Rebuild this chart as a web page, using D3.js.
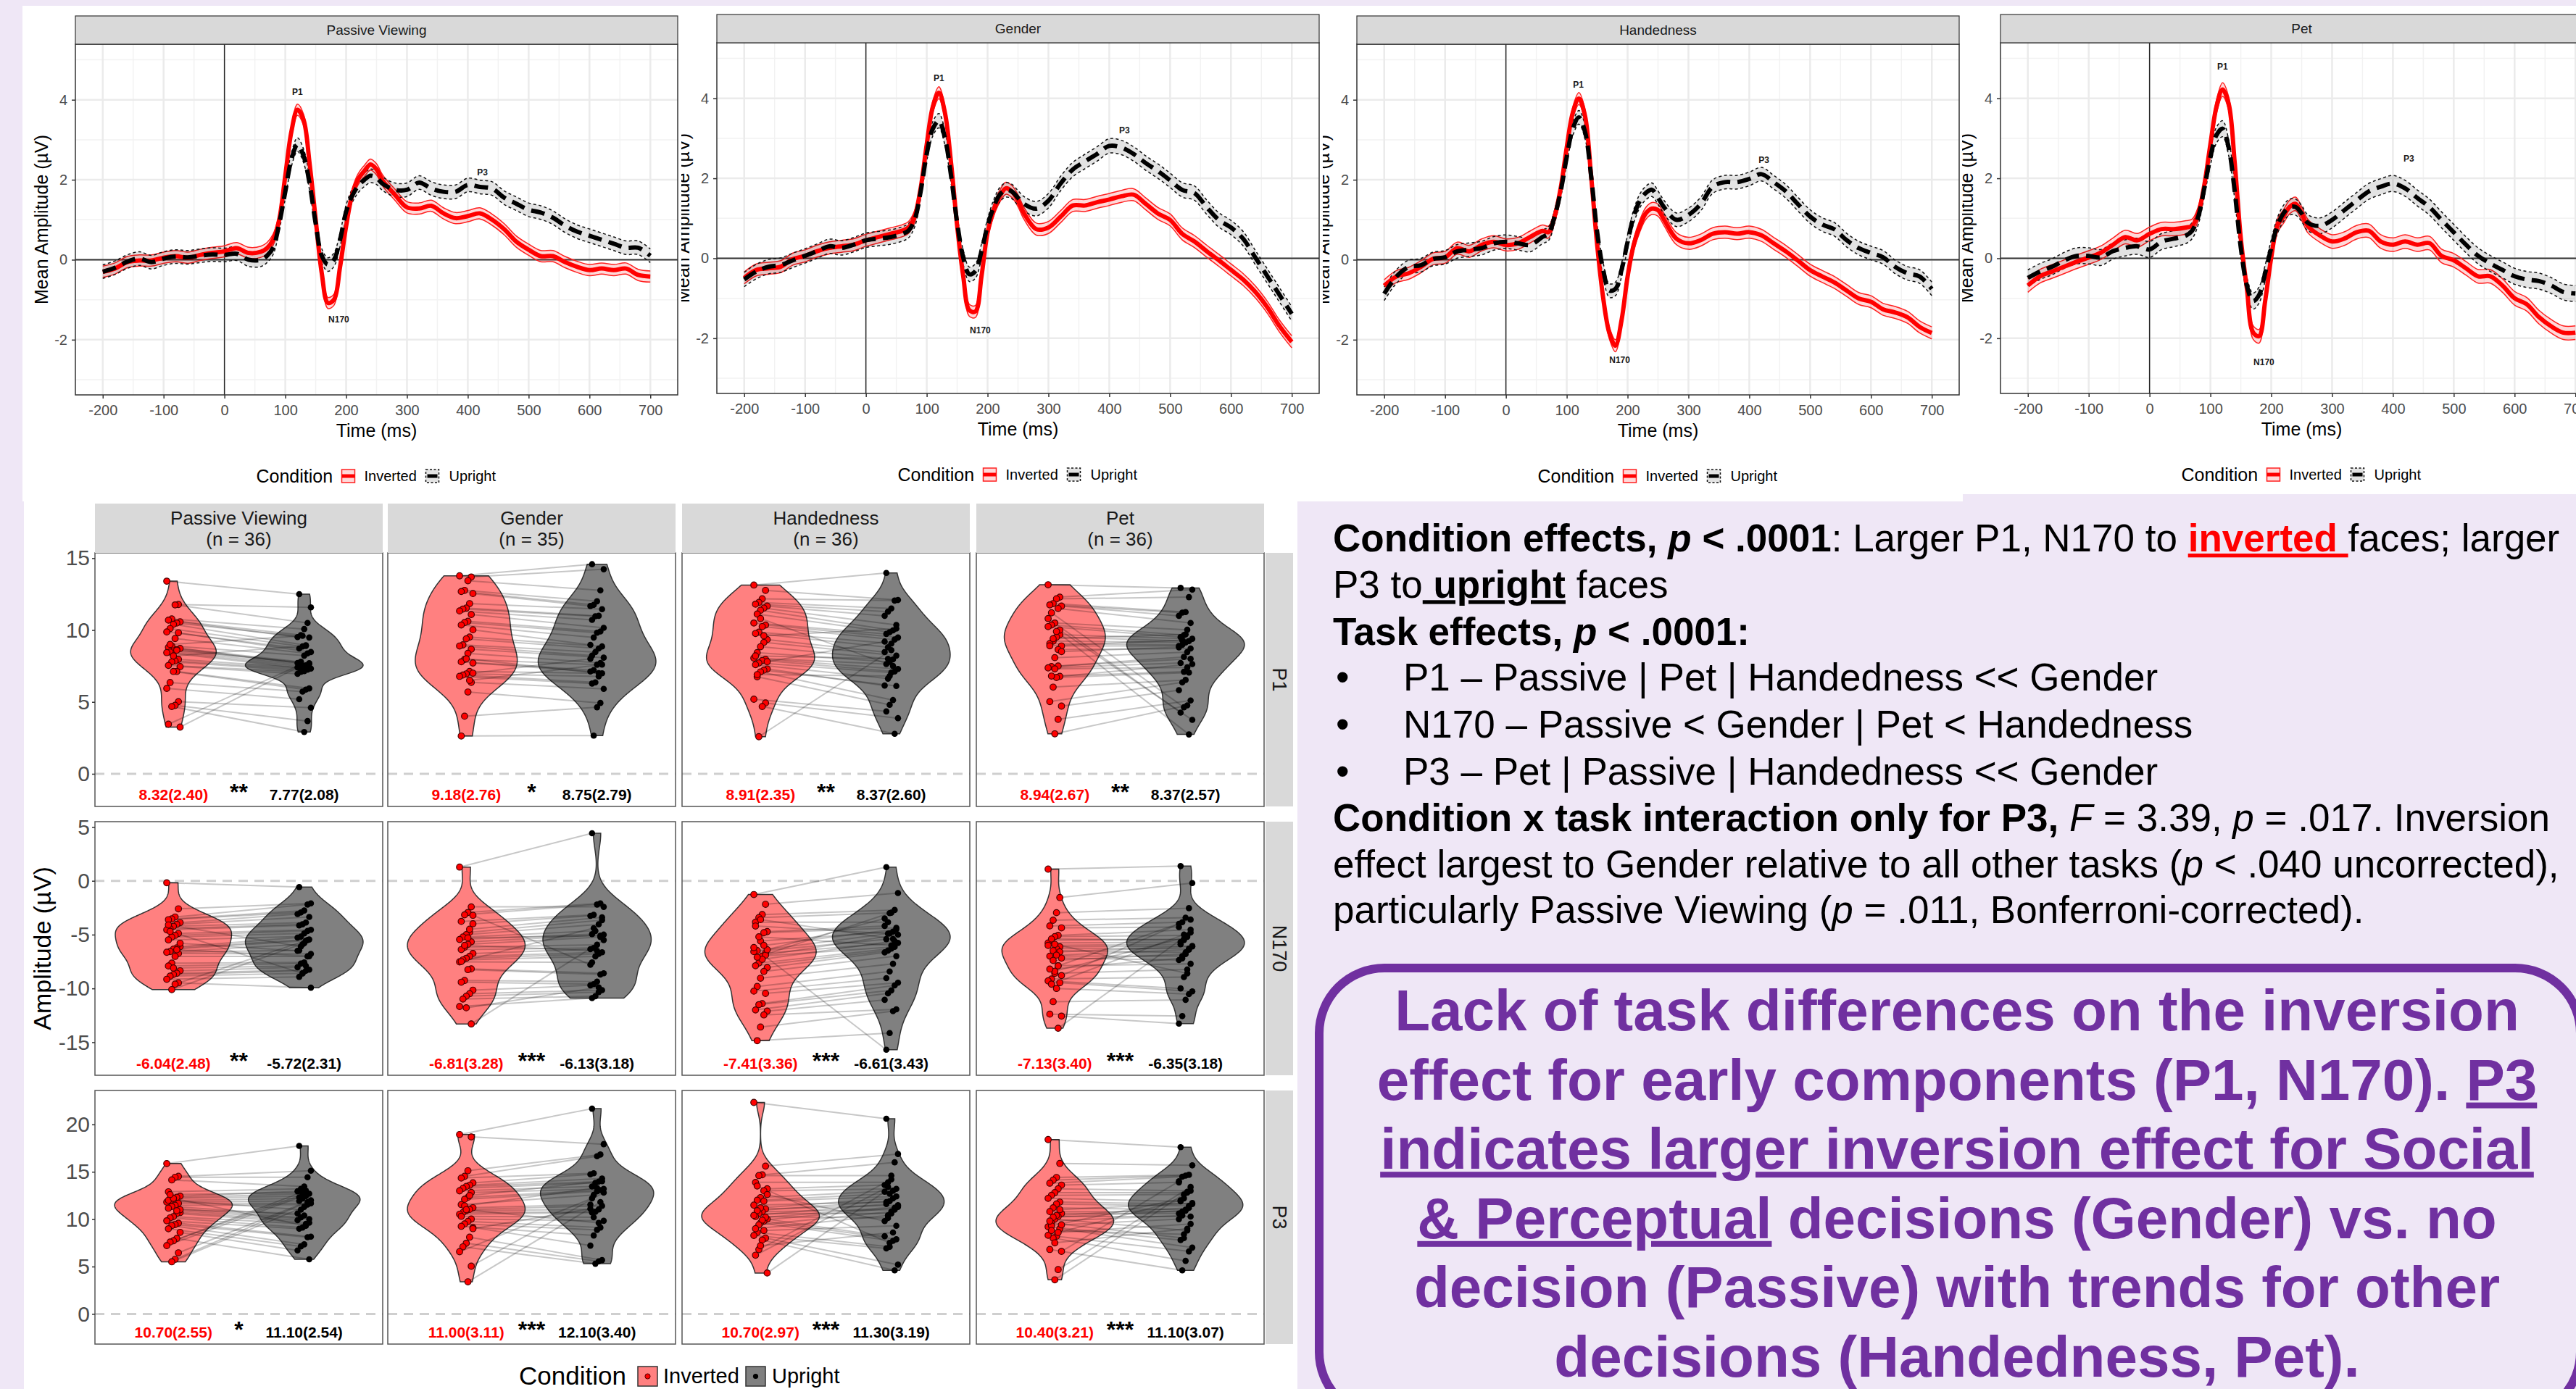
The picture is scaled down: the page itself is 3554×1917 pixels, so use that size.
<!DOCTYPE html>
<html>
<head>
<meta charset="utf-8">
<title>Face inversion: ERP waveforms and component amplitudes by task</title>
<script src="https://cdn.jsdelivr.net/npm/d3@7"></script>
<style>
  html, body { margin: 0; padding: 0; background: #efe7f6; }
  svg { display: block; }
  text { font-family: "Liberation Sans", Arial, Helvetica, sans-serif; }
  text.narrow { font-family: "Liberation Sans Narrow", "Arial Narrow", "Liberation Sans", Arial, sans-serif; }
</style>
</head>
<body>
<div id="poster"></div>
<script>
// ---------------------------------------------------------------------------
// ERP grand averages (µV)
// ---------------------------------------------------------------------------
const times = [-200, -180, -160, -140, -120, -100, -80, -60, -40, -20, 0, 20, 40, 60,
  70, 80, 90, 100, 110, 120, 130, 140, 150, 160, 170, 180, 190, 200, 210, 220, 230, 240, 250, 260,
  280, 300, 320, 340, 360, 380, 400, 420, 440, 460, 480, 500, 520, 540, 560, 580, 600, 620, 640, 660, 680, 700];
const tasks = ['Passive Viewing', 'Gender', 'Handedness', 'Pet'];
const conditions = ['Inverted', 'Upright'];

const erpInvPassive = [-0.3, -0.22, -0.06, -0.02, -0.02, 0.05, 0.09, 0.05, 0.12, 0.17, 0.21, 0.29, 0.17, 0.2,
  0.29, 0.5, 1.0, 2.1, 3.2, 3.75, 3.5, 2.4, 1.0, -0.34, -1.08, -1.0, -0.18, 0.84, 1.63, 2.02, 2.22, 2.38, 2.26, 1.98,
  1.63, 1.31, 1.28, 1.35, 1.16, 1.04, 1.09, 1.16, 1.0, 0.76, 0.45, 0.25, 0.09, 0.09, -0.06, -0.18, -0.26, -0.22, -0.26, -0.22, -0.38, -0.42];
const erpUpPassive = [-0.3, -0.2, -0.05, 0.03, -0.06, 0.03, 0.08, 0.06, 0.1, 0.13, 0.12, 0.15, 0.0, 0.0,
  0.1, 0.3, 0.9, 1.7, 2.5, 2.88, 2.6, 1.9, 0.9, 0.1, -0.12, 0.0, 0.5, 1.2, 1.6, 1.85, 2.0, 2.1, 2.05, 1.9,
  1.75, 1.75, 1.93, 1.78, 1.7, 1.7, 1.87, 1.82, 1.78, 1.55, 1.4, 1.25, 1.18, 1.05, 0.85, 0.7, 0.6, 0.5, 0.4, 0.3, 0.3, 0.1];
const erpInvGender = [-0.49, -0.29, -0.25, -0.21, -0.02, 0.06, 0.18, 0.26, 0.3, 0.34, 0.45, 0.53, 0.61, 0.69,
  0.77, 1.04, 1.75, 2.85, 3.79, 4.14, 3.63, 2.38, 0.81, -0.45, -1.3, -1.33, -0.45, 0.65, 1.2, 1.55, 1.75, 1.67, 1.44, 1.12,
  0.73, 0.77, 1.04, 1.32, 1.32, 1.4, 1.47, 1.55, 1.59, 1.36, 1.12, 0.96, 0.61, 0.42, 0.18, -0.05, -0.29, -0.53, -0.84, -1.23, -1.7, -2.09];
const erpUpGender = [-0.53, -0.33, -0.21, -0.17, -0.05, 0.06, 0.18, 0.3, 0.26, 0.34, 0.45, 0.49, 0.53, 0.61,
  0.69, 0.96, 1.67, 2.61, 3.24, 3.44, 3.0, 2.06, 0.89, 0.02, -0.4, -0.32, 0.18, 0.81, 1.28, 1.59, 1.71, 1.67, 1.51, 1.36,
  1.24, 1.44, 1.87, 2.22, 2.42, 2.61, 2.81, 2.77, 2.61, 2.38, 2.18, 1.95, 1.71, 1.63, 1.28, 0.96, 0.77, 0.49, 0.02, -0.45, -0.92, -1.39];
const erpInvHand = [-0.65, -0.42, -0.34, -0.18, 0.02, 0.06, 0.29, 0.21, 0.37, 0.45, 0.37, 0.41, 0.57, 0.72,
  0.69, 1.08, 1.79, 2.81, 3.68, 4.03, 3.6, 2.1, 0.37, -0.97, -1.83, -2.15, -1.52, -0.42, 0.37, 0.84, 1.16, 1.28, 1.24, 1.0,
  0.53, 0.41, 0.49, 0.65, 0.69, 0.65, 0.69, 0.61, 0.41, 0.21, -0.02, -0.26, -0.42, -0.57, -0.77, -0.97, -1.05, -1.24, -1.32, -1.44, -1.68, -1.83];
const erpUpHand = [-0.85, -0.42, -0.18, -0.14, 0.02, 0.06, 0.21, 0.25, 0.29, 0.41, 0.45, 0.41, 0.37, 0.57,
  0.65, 1.08, 1.71, 2.57, 3.28, 3.56, 3.2, 2.1, 0.69, -0.26, -0.77, -0.73, -0.26, 0.45, 1.08, 1.47, 1.67, 1.75, 1.55, 1.31,
  1.0, 1.12, 1.39, 1.83, 1.94, 1.94, 2.02, 2.14, 1.94, 1.71, 1.39, 1.08, 0.88, 0.76, 0.49, 0.29, 0.17, 0.06, -0.18, -0.34, -0.42, -0.73];
const erpInvPet = [-0.68, -0.45, -0.33, -0.21, -0.09, 0.02, 0.14, 0.34, 0.53, 0.45, 0.61, 0.73, 0.73, 0.77,
  0.81, 1.12, 1.83, 2.85, 3.79, 4.22, 3.87, 2.38, 0.49, -0.76, -1.85, -1.95, -1.07, 0.02, 0.81, 1.04, 1.28, 1.36, 1.12, 0.81,
  0.57, 0.42, 0.49, 0.65, 0.69, 0.42, 0.34, 0.42, 0.34, 0.38, 0.06, -0.05, -0.25, -0.45, -0.45, -0.68, -1.0, -1.15, -1.47, -1.7, -1.86, -1.86];
const erpUpPet = [-0.49, -0.33, -0.21, -0.05, 0.06, 0.06, 0.02, 0.18, 0.26, 0.3, 0.22, 0.42, 0.49, 0.57,
  0.69, 1.04, 1.75, 2.53, 3.08, 3.24, 2.77, 1.67, 0.26, -0.68, -1.07, -0.92, -0.37, 0.26, 0.81, 1.12, 1.28, 1.28, 1.12, 0.89,
  0.81, 0.96, 1.2, 1.44, 1.67, 1.79, 1.87, 1.75, 1.51, 1.28, 0.96, 0.65, 0.34, 0.06, -0.13, -0.29, -0.45, -0.53, -0.57, -0.68, -0.84, -0.88];

const erpInverted = [erpInvPassive, erpInvGender, erpInvHand, erpInvPet];
const erpUpright = [erpUpPassive, erpUpGender, erpUpHand, erpUpPet];
// ribbon half-width (SE, µV) per task: [inverted, upright]
const erpSE = [[0.14, 0.17], [0.15, 0.18], [0.15, 0.17], [0.17, 0.2]];

// component annotations (time in ms, amplitude in µV)
const peakNames = ['P1', 'N170', 'P3'];
const peakTimes = [[120, 188, 424], [120, 188, 425], [119, 187, 424], [120, 188, 426]];
const peakValues = [[4.2, -1.5, 2.19], [4.5, -1.8, 3.2], [4.38, -2.5, 2.49], [4.79, -2.6, 2.49]];
const erpXTicks = [-200, -100, 0, 100, 200, 300, 400, 500, 600, 700];
const erpYTicks = [-2, 0, 2, 4];

// ---------------------------------------------------------------------------
// Per-participant component amplitudes (µV) by task: Passive, Gender, Handedness, Pet
// ---------------------------------------------------------------------------
const groupN = ['(n = 36)', '(n = 35)', '(n = 36)', '(n = 36)'];

const p1Inverted = [
  [13.4, 11.78, 11.75, 10.77, 10.69, 10.57, 10.49, 10.4, 10.1, 9.87, 9.81, 9.41, 8.89, 8.8, 8.72, 8.64, 8.55, 8.47, 8.43, 7.96, 7.85, 7.79, 7.54, 7.46, 7.12, 7.12, 6.35, 5.94, 5.02, 4.76, 4.68, 3.45, 3.25, 8.6, 8.2, 9.0],
  [13.77, 13.69, 13.43, 12.76, 12.68, 12.54, 11.84, 11.53, 11.46, 11.33, 11.08, 10.61, 10.52, 10.35, 10.02, 9.51, 9.39, 8.97, 8.89, 8.67, 8.38, 7.96, 7.79, 7.71, 7.12, 6.95, 6.87, 6.78, 6.36, 5.69, 4.01, 2.63, 7.0, 6.5, 8.0],
  [13.13, 12.76, 12.17, 11.92, 11.8, 11.67, 11.53, 11.38, 11.11, 10.49, 10.35, 10.24, 9.85, 9.76, 9.34, 9.14, 8.84, 8.43, 8.05, 7.96, 7.88, 7.71, 7.59, 7.29, 7.21, 7.09, 6.75, 5.19, 4.93, 4.68, 2.58, 8.2, 7.8, 9.6, 10.8, 6.9],
  [13.15, 12.29, 12.17, 11.84, 11.75, 11.67, 11.5, 10.49, 10.35, 10.24, 9.68, 9.51, 9.23, 9.06, 8.89, 8.64, 8.08, 7.46, 7.37, 6.78, 6.7, 6.03, 5.02, 4.71, 3.79, 2.78, 11.2, 10.8, 10.0, 9.9, 9.4, 8.9, 8.5, 7.5, 7.3, 6.8]
];
const p1Upright = [
  [12.5, 11.58, 10.49, 10.07, 9.65, 9.51, 9.48, 8.94, 8.86, 8.72, 8.47, 8.38, 8.22, 7.79, 7.71, 7.63, 7.54, 7.46, 7.37, 7.32, 7.24, 7.15, 7.09, 6.95, 5.94, 5.86, 5.72, 5.19, 4.6, 3.67, 2.91, 7.6, 7.4, 7.7, 8.9, 9.6],
  [14.58, 14.23, 12.76, 12.0, 11.75, 11.67, 11.45, 10.99, 10.96, 10.71, 10.15, 9.9, 9.81, 9.48, 8.97, 8.86, 8.72, 8.47, 8.22, 8.08, 7.71, 7.59, 7.21, 7.12, 6.99, 6.78, 6.36, 6.28, 5.91, 4.93, 4.63, 2.66, 8.0, 7.6, 7.0],
  [13.97, 12.09, 12.05, 11.5, 11.28, 10.99, 10.35, 9.98, 9.85, 9.73, 9.48, 9.34, 9.06, 8.8, 8.47, 8.22, 7.96, 7.79, 7.63, 7.29, 7.12, 7.04, 6.62, 6.14, 6.11, 5.13, 4.8, 4.34, 3.87, 2.78, 8.6, 8.0, 9.2, 10.1, 7.5, 6.8],
  [12.93, 12.81, 12.29, 11.25, 11.21, 10.99, 10.49, 10.02, 9.65, 9.51, 9.39, 9.23, 9.14, 8.97, 8.89, 8.72, 8.47, 8.13, 7.71, 7.63, 7.04, 6.53, 6.36, 5.82, 5.1, 4.76, 4.63, 4.26, 3.75, 2.74, 9.7, 9.3, 8.8, 8.0, 7.4, 7.1]
];
const n170Inverted = [
  [-0.18, -2.6, -3.36, -3.54, -3.61, -3.88, -4.04, -4.22, -4.44, -4.55, -4.89, -5.07, -5.22, -5.49, -6.12, -6.23, -6.35, -6.57, -6.64, -6.75, -7.02, -7.65, -7.91, -8.36, -8.59, -8.7, -8.86, -9.15, -9.48, -9.6, -10.11, -4.1, -5.8, -6.4, -8.1, -4.7],
  [1.28, -2.42, -2.94, -3.16, -3.77, -3.99, -4.78, -5.0, -5.22, -5.45, -5.67, -5.9, -6.17, -6.39, -6.75, -7.02, -7.2, -7.35, -7.53, -8.18, -8.25, -9.26, -9.42, -10.16, -10.49, -10.72, -10.99, -11.68, -13.3, -5.3, -6.0, -7.5, -3.2, -4.5, -11.8],
  [-1.27, -2.18, -3.13, -3.42, -3.84, -4.72, -4.82, -5.6, -6.48, -6.58, -6.73, -7.0, -7.64, -7.89, -8.06, -8.42, -9.05, -9.82, -10.25, -10.46, -11.41, -11.51, -12.0, -12.11, -12.46, -13.59, -14.86, -6.2, -6.9, -7.3, -5.2, -4.2, -6.4, -6.0, -3.6, -7.1],
  [1.09, -1.55, -2.96, -3.66, -4.19, -4.37, -5.07, -5.18, -5.53, -5.77, -6.13, -6.3, -6.48, -7.0, -7.18, -7.89, -8.59, -9.12, -9.3, -9.47, -10.0, -11.23, -12.39, -12.57, -13.7, -8.4, -5.4, -6.0, -6.6, -6.9, -7.4, -8.2, -8.8, -7.9, -5.9, -9.6]
];
const n170Upright = [
  [-0.58, -2.09, -2.2, -2.76, -2.94, -3.09, -3.36, -3.88, -4.04, -4.15, -4.55, -4.66, -4.89, -5.18, -5.27, -5.45, -5.56, -5.9, -6.46, -6.79, -7.02, -7.58, -7.69, -8.03, -8.25, -8.36, -8.59, -8.92, -9.93, -5.5, -5.8, -6.1, -6.5, -7.0, -7.9, -8.6],
  [4.42, -2.42, -2.09, -2.2, -3.16, -3.25, -3.65, -4.04, -4.66, -4.96, -5.0, -5.22, -5.94, -6.23, -6.35, -6.64, -6.79, -7.02, -7.58, -8.59, -8.7, -9.37, -9.6, -9.71, -10.16, -10.34, -10.72, -10.9, -5.5, -5.1, -6.5, -4.4, -7.8, -3.4, -9.9],
  [1.27, -1.13, -2.71, -2.96, -3.84, -4.19, -4.37, -4.72, -4.89, -5.42, -5.77, -6.13, -6.3, -6.48, -6.65, -7.0, -7.71, -8.42, -9.05, -9.47, -9.72, -10.18, -10.46, -11.06, -11.94, -12.11, -14.15, -15.7, -5.0, -5.6, -6.0, -4.9, -3.5, -4.5, -5.4, -3.0],
  [1.37, -0.21, -2.54, -3.42, -3.84, -4.3, -4.54, -5.07, -5.42, -5.7, -6.06, -6.3, -6.65, -7.0, -7.36, -7.71, -8.24, -8.94, -10.0, -10.28, -10.53, -11.06, -12.57, -13.27, -4.8, -5.2, -5.5, -5.9, -6.1, -6.4, -6.8, -7.2, -4.0, -3.6, -8.6, -5.0]
];
const p3Inverted = [
  [15.87, 14.52, 14.42, 14.14, 12.89, 12.43, 12.31, 12.18, 11.97, 11.8, 11.67, 11.46, 11.34, 11.16, 10.7, 10.6, 10.27, 10.14, 9.83, 9.58, 9.43, 9.32, 8.99, 8.61, 7.97, 7.72, 7.59, 7.21, 6.45, 5.76, 5.5, 12.0, 11.0, 10.9, 12.2, 12.6],
  [18.93, 18.68, 15.11, 14.52, 14.34, 13.83, 13.58, 13.45, 13.25, 12.99, 12.82, 12.31, 12.1, 11.54, 11.21, 11.03, 10.9, 10.7, 10.52, 10.01, 9.76, 9.5, 9.25, 9.12, 8.1, 7.46, 7.08, 6.57, 5.04, 3.39, 11.4, 10.3, 9.0, 12.5, 11.0],
  [22.32, 15.6, 14.68, 14.6, 13.88, 13.2, 13.0, 12.28, 12.0, 11.48, 11.08, 10.8, 10.6, 10.28, 10.0, 9.8, 9.6, 8.6, 8.28, 8.0, 7.8, 6.8, 6.2, 4.32, 11.9, 11.2, 10.9, 10.4, 10.2, 9.9, 9.4, 9.0, 12.6, 8.8, 7.2, 13.5],
  [18.4, 15.88, 14.4, 14.12, 13.8, 13.6, 13.2, 12.8, 12.52, 12.2, 11.8, 11.6, 11.2, 10.8, 10.6, 10.28, 10.0, 9.6, 9.2, 9.0, 8.2, 8.0, 6.8, 6.6, 4.68, 3.6, 9.3, 8.3, 11.0, 10.4, 10.2, 9.8, 9.4, 8.6, 7.5, 8.8]
];
const p3Upright = [
  [17.73, 15.11, 14.42, 13.45, 13.2, 12.94, 12.69, 12.43, 12.18, 11.92, 11.67, 11.54, 10.39, 10.19, 9.89, 9.63, 9.5, 9.12, 8.99, 8.15, 8.1, 7.34, 7.13, 6.7, 5.76, 13.0, 12.6, 12.3, 12.0, 11.8, 11.3, 11.0, 10.6, 10.0, 9.3, 12.8],
  [21.66, 17.91, 16.82, 16.64, 14.85, 14.73, 14.29, 13.96, 13.83, 13.45, 13.2, 13.07, 12.94, 12.56, 11.54, 11.41, 11.03, 10.78, 10.7, 9.83, 9.12, 8.87, 8.28, 7.21, 5.68, 5.55, 5.3, 12.2, 12.8, 11.8, 13.3, 10.2, 11.1, 14.0, 9.6],
  [20.6, 16.88, 16.0, 14.6, 13.88, 13.6, 13.2, 13.0, 12.68, 11.8, 11.48, 11.0, 10.6, 10.12, 8.2, 7.88, 7.72, 7.08, 6.92, 5.2, 4.6, 14.2, 13.4, 12.9, 12.4, 12.2, 11.9, 11.6, 11.3, 11.2, 10.8, 10.4, 9.8, 9.3, 8.6, 7.5],
  [17.6, 15.68, 14.68, 14.6, 14.48, 13.88, 13.0, 12.8, 12.6, 11.88, 11.6, 11.4, 11.0, 10.8, 10.6, 10.28, 8.8, 8.0, 7.8, 7.0, 6.6, 5.6, 4.6, 14.0, 13.4, 12.9, 12.2, 12.0, 11.7, 11.2, 10.9, 10.4, 10.0, 9.5, 9.0, 8.4]
];

// mean(SD) labels per task: [inverted, upright, significance]
const p1Labels = [['8.32(2.40)', '7.77(2.08)', '**'], ['9.18(2.76)', '8.75(2.79)', '*'], ['8.91(2.35)', '8.37(2.60)', '**'], ['8.94(2.67)', '8.37(2.57)', '**']];
const n170Labels = [['-6.04(2.48)', '-5.72(2.31)', '**'], ['-6.81(3.28)', '-6.13(3.18)', '***'], ['-7.41(3.36)', '-6.61(3.43)', '***'], ['-7.13(3.40)', '-6.35(3.18)', '***']];
const p3Labels = [['10.70(2.55)', '11.10(2.54)', '*'], ['11.00(3.11)', '12.10(3.40)', '***'], ['10.70(2.97)', '11.30(3.19)', '***'], ['10.40(3.21)', '11.10(3.07)', '***']];
const p1Ticks = [0, 5, 10, 15];
const n170Ticks = [-15, -10, -5, 0, 5];
const p3Ticks = [0, 5, 10, 15, 20];

// ---------------------------------------------------------------------------
// Findings text
// ---------------------------------------------------------------------------
const findingLines = [
  [['Condition effects, ', 'b'], ['p', 'bi'], [' < .0001', 'b'], [': Larger P1, N170 to ', ''], ['inverted ', 'bru'], ['faces; larger', '']],
  [['P3 to', ''], [' upright', 'bu'], [' faces', '']],
  [['Task effects, ', 'b'], ['p', 'bi'], [' < .0001:', 'b']]
];
const bulletLines = [
  'P1 \u2013 Passive | Pet | Handedness << Gender',
  'N170 \u2013 Passive < Gender | Pet < Handedness',
  'P3 \u2013 Pet | Passive | Handedness << Gender'
];
const interactionLines = [
  [['Condition x task interaction only for P3, ', 'b'], ['F', 'i'], [' = 3.39, ', ''], ['p', 'i'], [' = .017. Inversion', '']],
  [['effect largest to Gender relative to all other tasks (', ''], ['p', 'i'], [' < .040 uncorrected),', '']],
  [['particularly Passive Viewing (', ''], ['p', 'i'], [' = .011, Bonferroni-corrected).', '']]
];
const takeawayLines = [
  [['Lack of task differences on the inversion', '']],
  [['effect for early components (P1, N170). ', ''], ['P3', 'u']],
  [['indicates larger inversion effect for Social', 'u']],
  [['& Perceptual', 'u'], [' decisions (Gender) vs. no', '']],
  [['decision (Passive) with trends for other', '']],
  [['decisions (Handedness, Pet).', '']]
];

// ---------------------------------------------------------------------------
const W = 3554, H = 1917;
const BG = '#efe7f6';
const PURPLE = '#7030a0';
const TEXT_DARK = '#1a1a1a';
const TICK_GREY = '#4d4d4d';

const svg = d3.select('#poster').append('svg')
  .attr('width', W).attr('height', H)
  .attr('viewBox', `0 0 ${W} ${H}`);
const defs = svg.append('defs');

svg.append('rect').attr('width', W).attr('height', H).attr('fill', BG);
// white backgrounds of the pasted figures
svg.append('rect').attr('x', 31).attr('y', 8).attr('width', W - 31).attr('height', 674).attr('fill', '#fff');
svg.append('rect').attr('x', 31).attr('y', 8).attr('width', 2708 - 31).attr('height', 684).attr('fill', '#fff');
svg.append('rect').attr('x', 33).attr('y', 682).attr('width', 1790 - 33).attr('height', H - 682).attr('fill', '#fff');

/** Append tspans with simple style codes: b bold, i italic, r red, u underline. */
function appendParts(textSel, parts) {
  parts.forEach(([txt, st]) => {
    const t = textSel.append('tspan').text(txt);
    if (st.includes('b')) t.attr('font-weight', 'bold');
    if (st.includes('i')) t.attr('font-style', 'italic');
    if (st.includes('r')) t.attr('fill', '#ff0000');
    if (st.includes('u')) t.attr('text-decoration', 'underline');
  });
}

/** Strip d3 axis defaults so the theme can be applied. */
function styleAxis(axisG, fontSize) {
  axisG.attr('font-family', null).attr('font-size', null);
  axisG.select('.domain').remove();
  axisG.selectAll('.tick line').attr('stroke', '#333').attr('stroke-width', 1.5);
  axisG.selectAll('.tick text').attr('fill', TICK_GREY).style('font-size', fontSize + 'px');
}

// ---------------------------------------------------------------------------
// Top row: ERP waveforms, one figure per task
// ---------------------------------------------------------------------------
const ERP_LEFT = [104, 989, 1872, 2760];
const ERP_SHIFT = [0, -2, 0, -2];
const ERP_CLIP = [31, 940, 1825, 2707, W];
const ERP_W = 831, ERP_TOP = 61, ERP_BOTTOM = 545, STRIP_TOP = 22;

function drawErpPanel(i) {
  const L = ERP_LEFT[i];
  const clipId = `erp-clip-${i}`;
  defs.append('clipPath').attr('id', clipId)
    .append('rect')
    .attr('x', ERP_CLIP[i]).attr('y', 0)
    .attr('width', ERP_CLIP[i + 1] - ERP_CLIP[i]).attr('height', 700);

  const g = svg.append('g').attr('clip-path', `url(#${clipId})`)
    .append('g').attr('transform', `translate(0,${ERP_SHIFT[i]})`);

  const x = d3.scaleLinear().domain([-245, 745]).range([L, L + ERP_W]);
  const y = d3.scaleLinear().domain([-3.38, 5.39]).range([ERP_BOTTOM, ERP_TOP]);

  // grid: minor then major
  const grid = g.append('g');
  grid.selectAll('line.xmin').data(d3.range(-150, 701, 100)).join('line')
    .attr('x1', d => x(d)).attr('x2', d => x(d)).attr('y1', ERP_TOP).attr('y2', ERP_BOTTOM)
    .attr('stroke', '#f2f2f2').attr('stroke-width', 1.5);
  grid.selectAll('line.ymin').data([-3, -1, 1, 3, 5]).join('line')
    .attr('x1', L).attr('x2', L + ERP_W).attr('y1', d => y(d)).attr('y2', d => y(d))
    .attr('stroke', '#f2f2f2').attr('stroke-width', 1.5);
  grid.selectAll('line.xmaj').data(erpXTicks).join('line')
    .attr('x1', d => x(d)).attr('x2', d => x(d)).attr('y1', ERP_TOP).attr('y2', ERP_BOTTOM)
    .attr('stroke', '#ebebeb').attr('stroke-width', 2.5);
  grid.selectAll('line.ymaj').data(erpYTicks).join('line')
    .attr('x1', L).attr('x2', L + ERP_W).attr('y1', d => y(d)).attr('y2', d => y(d))
    .attr('stroke', '#ebebeb').attr('stroke-width', 2.5);

  // reference lines at stimulus onset and 0 µV
  g.append('line').attr('x1', x(0)).attr('x2', x(0)).attr('y1', ERP_TOP).attr('y2', ERP_BOTTOM)
    .attr('stroke', '#222').attr('stroke-width', 1.4);
  g.append('line').attr('x1', L).attr('x2', L + ERP_W).attr('y1', y(0)).attr('y2', y(0))
    .attr('stroke', '#333').attr('stroke-width', 2);

  const series = [
    { vals: erpInverted[i], se: erpSE[i][0], fill: 'rgba(255,0,0,0.15)', edge: '#ff2020', edgeDash: null, line: '#ff0000', dash: null },
    { vals: erpUpright[i], se: erpSE[i][1], fill: 'rgba(0,0,0,0.11)', edge: '#111', edgeDash: '4,3.5', line: '#000', dash: '19,10' }
  ];
  const curve = d3.curveCatmullRom.alpha(0.5);

  series.forEach(s => {
    const ribbon = d3.area().curve(curve)
      .x((d, j) => x(times[j]))
      .y0(d => y(d - s.se))
      .y1(d => y(d + s.se));
    g.append('path').datum(s.vals).attr('d', ribbon).attr('fill', s.fill);
    [-1, 1].forEach(sign => {
      const edge = d3.line().curve(curve).x((d, j) => x(times[j])).y(d => y(d + sign * s.se));
      g.append('path').datum(s.vals).attr('d', edge)
        .attr('fill', 'none').attr('stroke', s.edge).attr('stroke-width', 1.5)
        .attr('stroke-dasharray', s.edgeDash);
    });
  });
  series.forEach(s => {
    const wave = d3.line().curve(curve).x((d, j) => x(times[j])).y(d => y(d));
    g.append('path').datum(s.vals).attr('d', wave)
      .attr('fill', 'none').attr('stroke', s.line).attr('stroke-width', 6)
      .attr('stroke-dasharray', s.dash);
  });

  // component labels
  g.selectAll('text.peak').data(peakNames).join('text')
    .attr('x', (d, k) => x(peakTimes[i][k]))
    .attr('y', (d, k) => y(peakValues[i][k]))
    .attr('dy', '0.35em')
    .attr('text-anchor', 'middle')
    .attr('font-size', 12).attr('font-weight', 'bold').attr('fill', TEXT_DARK)
    .text(d => d);

  // panel border and strip
  g.append('rect').attr('x', L).attr('y', ERP_TOP).attr('width', ERP_W).attr('height', ERP_BOTTOM - ERP_TOP)
    .attr('fill', 'none').attr('stroke', '#333').attr('stroke-width', 1.5);
  g.append('rect').attr('x', L).attr('y', STRIP_TOP).attr('width', ERP_W).attr('height', ERP_TOP - STRIP_TOP)
    .attr('fill', '#d9d9d9').attr('stroke', '#333').attr('stroke-width', 1.2);
  g.append('text').attr('x', L + ERP_W / 2).attr('y', (STRIP_TOP + ERP_TOP) / 2).attr('dy', '0.35em')
    .attr('text-anchor', 'middle').attr('font-size', 19).attr('fill', TEXT_DARK).text(tasks[i]);

  // axes
  const xAxis = g.append('g').attr('transform', `translate(0,${ERP_BOTTOM})`)
    .call(d3.axisBottom(x).tickValues(erpXTicks).tickSize(5).tickPadding(9).tickFormat(d => String(d)));
  styleAxis(xAxis, 20);
  const yAxis = g.append('g').attr('transform', `translate(${L},0)`)
    .call(d3.axisLeft(y).tickValues(erpYTicks).tickSize(5).tickPadding(6).tickFormat(d => String(d)));
  styleAxis(yAxis, 20);

  g.append('text').attr('x', L + ERP_W / 2).attr('y', 603).attr('text-anchor', 'middle')
    .attr('font-size', 25).attr('fill', '#000').text('Time (ms)');
  g.append('text')
    .attr('transform', `translate(${L - 47},${(ERP_TOP + ERP_BOTTOM) / 2}) rotate(-90)`)
    .attr('dy', '0.35em').attr('text-anchor', 'middle')
    .attr('font-size', 25).attr('fill', '#000').text('Mean Amplitude (\u00b5V)');

  // legend
  const cx = L + ERP_W / 2;
  const leg = g.append('g');
  leg.append('text').attr('x', cx - 166).attr('y', 666).attr('font-size', 25).attr('fill', '#000').text('Condition');
  leg.append('rect').attr('x', cx - 48).attr('y', 648).attr('width', 18).attr('height', 18)
    .attr('fill', 'rgba(255,0,0,0.15)').attr('stroke', '#ff2020').attr('stroke-width', 1.5);
  leg.append('line').attr('x1', cx - 48).attr('x2', cx - 30).attr('y1', 657).attr('y2', 657)
    .attr('stroke', '#ff0000').attr('stroke-width', 5);
  leg.append('text').attr('x', cx - 17).attr('y', 664).attr('font-size', 20).attr('fill', '#000').text(conditions[0]);
  leg.append('rect').attr('x', cx + 68).attr('y', 648).attr('width', 18).attr('height', 18)
    .attr('fill', 'rgba(0,0,0,0.11)').attr('stroke', '#111').attr('stroke-width', 1.5).attr('stroke-dasharray', '3,2.5');
  leg.append('line').attr('x1', cx + 70).attr('x2', cx + 84).attr('y1', 657).attr('y2', 657)
    .attr('stroke', '#000').attr('stroke-width', 5);
  leg.append('text').attr('x', cx + 100).attr('y', 664).attr('font-size', 20).attr('fill', '#000').text(conditions[1]);
}

tasks.forEach((t, i) => drawErpPanel(i));

// ---------------------------------------------------------------------------
// Bottom left: violin plots of component amplitudes
// ---------------------------------------------------------------------------
const VCOL = [131, 535, 941, 1347];
const VW = 397;
const VROW = [763, 1134, 1505];
const VH = 350;
const STRIP_Y = 695;

const componentRows = [
  { name: 'P1', inv: p1Inverted, up: p1Upright, labels: p1Labels, ticks: p1Ticks, domain: [-2.27, 15.37] },
  { name: 'N170', inv: n170Inverted, up: n170Upright, labels: n170Labels, ticks: n170Ticks, domain: [-18.07, 5.5] },
  { name: 'P3', inv: p3Inverted, up: p3Upright, labels: p3Labels, ticks: p3Ticks, domain: [-3.18, 23.58] }
];

/** Silverman's rule of thumb (R's bw.nrd0). */
function bwNrd0(vals) {
  const s = d3.sort(vals);
  const sd = d3.deviation(s);
  const iqr = (d3.quantileSorted(s, 0.75) - d3.quantileSorted(s, 0.25)) / 1.34;
  const lo = Math.min(sd, iqr) || sd || 1;
  return 0.9 * lo * Math.pow(s.length, -0.2);
}

/** Gaussian kernel density over the data range (violin trimmed to the data). */
function density(vals, bw, n = 256) {
  const [lo, hi] = d3.extent(vals);
  const norm = vals.length * bw * Math.sqrt(2 * Math.PI);
  return d3.range(n).map(k => {
    const v = lo + (hi - lo) * k / (n - 1);
    return [v, d3.sum(vals, u => Math.exp(-0.5 * ((v - u) / bw) ** 2)) / norm];
  });
}

const jitter = j => ((j * 7) % 9 - 4) * 2.3;

function drawViolinPanel(r, c) {
  const row = componentRows[r];
  const left = VCOL[c], top = VROW[r];
  const y = d3.scaleLinear().domain(row.domain).range([top + VH, top]);
  const x = d3.scalePoint().domain(conditions).range([left, left + VW]).padding(0.6);
  const g = svg.append('g');

  g.append('rect').attr('x', left).attr('y', top).attr('width', VW).attr('height', VH).attr('fill', '#fff');
  g.append('line').attr('x1', left).attr('x2', left + VW).attr('y1', y(0)).attr('y2', y(0))
    .attr('stroke', '#cfcfcf').attr('stroke-width', 3).attr('stroke-dasharray', '13,9');

  const groups = [row.inv[c], row.up[c]];
  const dens = groups.map(v => density(v, bwNrd0(v)));
  const maxD = d3.max(dens, d => d3.max(d, e => e[1]));
  const half = 0.9 * x.step() / 2;

  dens.forEach((d, k) => {
    const cx = x(conditions[k]);
    const area = d3.area()
      .y(e => y(e[0]))
      .x0(e => cx - e[1] / maxD * half)
      .x1(e => cx + e[1] / maxD * half);
    g.append('path').datum(d).attr('d', area)
      .attr('fill', k ? '#808080' : '#ff8080')
      .attr('stroke', '#333').attr('stroke-width', 1.5);
  });

  // paired participant lines
  const idx = d3.range(Math.min(groups[0].length, groups[1].length));
  g.append('g').selectAll('line').data(idx).join('line')
    .attr('x1', j => x('Inverted') + jitter(j)).attr('y1', j => y(groups[0][j]))
    .attr('x2', j => x('Upright') + jitter(j + 4)).attr('y2', j => y(groups[1][j]))
    .attr('stroke', 'rgba(0,0,0,0.22)').attr('stroke-width', 2);

  g.append('g').selectAll('circle').data(groups[0]).join('circle')
    .attr('cx', (d, j) => x('Inverted') + jitter(j)).attr('cy', d => y(d)).attr('r', 4.3)
    .attr('fill', '#ff0000').attr('stroke', '#4a0000').attr('stroke-width', 1.2);
  g.append('g').selectAll('circle').data(groups[1]).join('circle')
    .attr('cx', (d, j) => x('Upright') + jitter(j + 4)).attr('cy', d => y(d)).attr('r', 4.3)
    .attr('fill', '#000');

  // mean(SD) and significance
  const [invLab, upLab, stars] = row.labels[c];
  const base = top + VH - 9;
  g.append('text').attr('class', 'narrow').attr('x', x('Inverted')).attr('y', base).attr('text-anchor', 'middle')
    .attr('font-size', 21).attr('font-weight', 'bold').attr('fill', '#ff0000').text(invLab);
  g.append('text').attr('class', 'narrow').attr('x', x('Upright')).attr('y', base).attr('text-anchor', 'middle')
    .attr('font-size', 21).attr('font-weight', 'bold').attr('fill', '#000').text(upLab);
  g.append('text').attr('x', (x('Inverted') + x('Upright')) / 2).attr('y', base).attr('text-anchor', 'middle')
    .attr('font-size', 32).attr('font-weight', 'bold').attr('fill', '#000').text(stars);

  g.append('rect').attr('x', left).attr('y', top).attr('width', VW).attr('height', VH)
    .attr('fill', 'none').attr('stroke', '#555').attr('stroke-width', 1.5);

  if (c === 0) {
    const ax = g.append('g').attr('transform', `translate(${left},0)`)
      .call(d3.axisLeft(y).tickValues(row.ticks).tickSize(4).tickPadding(3).tickFormat(d => String(d)));
    styleAxis(ax, 30);
  }
}

componentRows.forEach((row, r) => tasks.forEach((t, c) => drawViolinPanel(r, c)));

// column strips
tasks.forEach((task, c) => {
  svg.append('rect').attr('x', VCOL[c]).attr('y', STRIP_Y).attr('width', VW).attr('height', VROW[0] - STRIP_Y)
    .attr('fill', '#d9d9d9');
  const t = svg.append('text').attr('text-anchor', 'middle').attr('font-size', 26).attr('fill', TEXT_DARK);
  t.append('tspan').attr('x', VCOL[c] + VW / 2).attr('y', 724).text(task);
  t.append('tspan').attr('x', VCOL[c] + VW / 2).attr('y', 753).text(groupN[c]);
});

// row strips
componentRows.forEach((row, r) => {
  svg.append('rect').attr('x', 1746).attr('y', VROW[r]).attr('width', 38).attr('height', VH).attr('fill', '#d9d9d9');
  svg.append('text')
    .attr('transform', `translate(1765,${VROW[r] + VH / 2}) rotate(90)`)
    .attr('dy', '0.35em').attr('text-anchor', 'middle')
    .attr('font-size', 27).attr('fill', TEXT_DARK).text(row.name);
});

svg.append('text')
  .attr('transform', `translate(58,${(VROW[0] + VROW[2] + VH) / 2}) rotate(-90)`)
  .attr('dy', '0.35em').attr('text-anchor', 'middle')
  .attr('font-size', 34).attr('fill', '#000').text('Amplitude (\u00b5V)');

// violin legend
const vLeg = svg.append('g');
vLeg.append('text').attr('x', 716).attr('y', 1911).attr('font-size', 35).attr('fill', '#000').text('Condition');
vLeg.append('rect').attr('x', 880).attr('y', 1886).attr('width', 27).attr('height', 27)
  .attr('fill', '#ff8080').attr('stroke', '#333').attr('stroke-width', 1.5);
vLeg.append('circle').attr('cx', 893.5).attr('cy', 1899.5).attr('r', 3.6)
  .attr('fill', '#ff0000').attr('stroke', '#4a0000').attr('stroke-width', 1);
vLeg.append('text').attr('x', 915).attr('y', 1909).attr('font-size', 29).attr('fill', '#000').text(conditions[0]);
vLeg.append('rect').attr('x', 1029).attr('y', 1886).attr('width', 27).attr('height', 27)
  .attr('fill', '#808080').attr('stroke', '#333').attr('stroke-width', 1.5);
vLeg.append('circle').attr('cx', 1042.5).attr('cy', 1899.5).attr('r', 3.6).attr('fill', '#000');
vLeg.append('text').attr('x', 1065).attr('y', 1909).attr('font-size', 29).attr('fill', '#000').text(conditions[1]);

// ---------------------------------------------------------------------------
// Right: statistical findings and take-home box
// ---------------------------------------------------------------------------
const FS = 53;
const notes = svg.append('g').attr('font-size', FS).attr('fill', '#000');

findingLines.forEach((parts, k) => {
  const t = notes.append('text').attr('x', 1839).attr('y', 761 + k * 64.3).attr('xml:space', 'preserve');
  appendParts(t, parts);
});
bulletLines.forEach((line, k) => {
  const yy = 953 + k * 65;
  notes.append('text').attr('x', 1843).attr('y', yy).text('\u2022');
  notes.append('text').attr('x', 1936).attr('y', yy).attr('xml:space', 'preserve').text(line);
});
interactionLines.forEach((parts, k) => {
  const t = notes.append('text').attr('x', 1839).attr('y', 1147 + k * 63.5).attr('xml:space', 'preserve');
  appendParts(t, parts);
});

svg.append('rect')
  .attr('x', 1820).attr('y', 1336).attr('width', 1740).attr('height', 620)
  .attr('rx', 90).attr('ry', 90)
  .attr('fill', 'none').attr('stroke', PURPLE).attr('stroke-width', 12);

const takeaway = svg.append('g').attr('font-size', 80).attr('font-weight', 'bold').attr('fill', PURPLE);
takeawayLines.forEach((parts, k) => {
  const t = takeaway.append('text').attr('x', 2700).attr('y', 1422 + k * 95.6)
    .attr('text-anchor', 'middle').attr('xml:space', 'preserve');
  appendParts(t, parts);
});
</script>
</body>
</html>
